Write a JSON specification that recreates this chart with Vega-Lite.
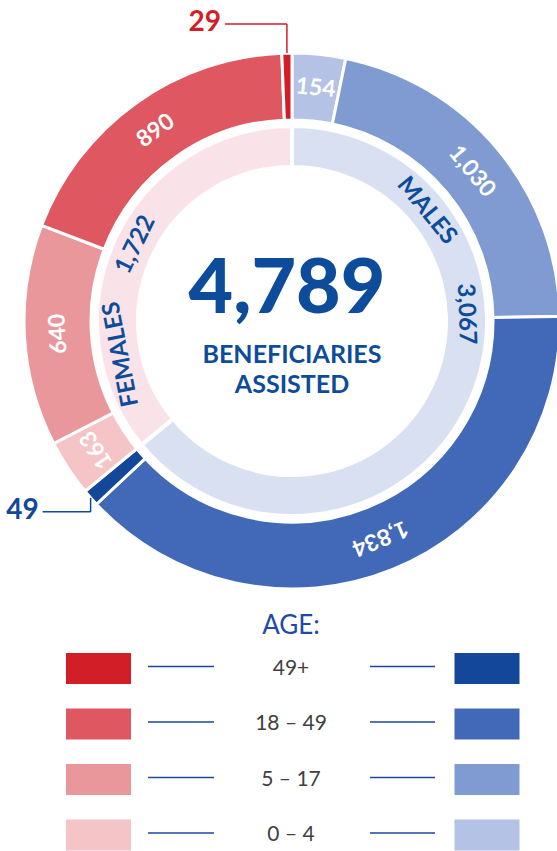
{
  "$schema": "https://vega.github.io/schema/vega-lite/v6.json",
  "width": 557,
  "height": 851,
  "autosize": {"type": "none"},
  "padding": 0,
  "background": "white",
  "config": {"view": {"stroke": null}, "font": "Lato", "text": {"font": "Lato"}},
  "params": [
    {"name": "cx", "value": 292},
    {"name": "cy", "value": 321},
    {"name": "rOut", "value": 268}
  ],
  "datasets": {
    "beneficiaries": [
      {"gender": "Males", "age": "0 – 4", "value": 154},
      {"gender": "Males", "age": "5 – 17", "value": 1030},
      {"gender": "Males", "age": "18 – 49", "value": 1834},
      {"gender": "Males", "age": "49+", "value": 49},
      {"gender": "Females", "age": "0 – 4", "value": 163},
      {"gender": "Females", "age": "5 – 17", "value": 640},
      {"gender": "Females", "age": "18 – 49", "value": 890},
      {"gender": "Females", "age": "49+", "value": 29}
    ]
  },
  "data": {"name": "beneficiaries"},
  "layer": [
    {
      "transform": [
        {"window": [{"op": "row_number", "as": "idx"}]},
        {"calculate": "datum.gender + ' ' + datum.age", "as": "key"}
      ],
      "mark": {"type": "arc", "x": {"expr": "cx"}, "y": {"expr": "cy"}, "radius": 268, "radius2": 201, "stroke": "white", "strokeWidth": 3},
      "encoding": {
        "theta": {"field": "value", "type": "quantitative", "stack": true},
        "order": {"field": "idx", "type": "quantitative"},
        "color": {"field": "key", "type": "nominal", "legend": null,
          "scale": {"domain": ["Males 0 – 4", "Males 5 – 17", "Males 18 – 49", "Males 49+", "Females 0 – 4", "Females 5 – 17", "Females 18 – 49", "Females 49+", "Males", "Females"],
                    "range": ["#b3c2e5", "#7f9bd1", "#4268b8", "#12479a", "#f4c4c7", "#ea979b", "#df5761", "#d21e26", "#d9e0f2", "#fae3e8"]}}
      }
    },
    {
      "transform": [
        {"window": [{"op": "row_number", "as": "idx"}]},
        {"aggregate": [{"op": "sum", "field": "value", "as": "value"}, {"op": "min", "field": "idx", "as": "idx"}], "groupby": ["gender"]}
      ],
      "mark": {"type": "arc", "x": {"expr": "cx"}, "y": {"expr": "cy"}, "radius": 195, "radius2": 154, "stroke": "white", "strokeWidth": 4},
      "encoding": {
        "theta": {"field": "value", "type": "quantitative", "stack": true},
        "order": {"field": "idx", "type": "quantitative"},
        "color": {"field": "gender", "type": "nominal", "legend": null,
          "scale": {"domain": ["Males 0 – 4", "Males 5 – 17", "Males 18 – 49", "Males 49+", "Females 0 – 4", "Females 5 – 17", "Females 18 – 49", "Females 49+", "Males", "Females"],
                    "range": ["#b3c2e5", "#7f9bd1", "#4268b8", "#12479a", "#f4c4c7", "#ea979b", "#df5761", "#d21e26", "#d9e0f2", "#fae3e8"]}}
      }
    },
    {
      "transform": [
        {"window": [{"op": "row_number", "as": "idx"}]},
        {"window": [{"op": "sum", "field": "value", "as": "cum"}], "sort": [{"field": "idx"}]},
        {"joinaggregate": [{"op": "sum", "field": "value", "as": "total"}]},
        {"calculate": "datum.cum - datum.value / 2", "as": "mid"},
        {"calculate": "datum.mid / datum.total * 360", "as": "midDeg"},
        {"filter": "datum.value >= 100"}
      ],
      "mark": {"type": "text", "x": {"expr": "cx"}, "y": {"expr": "cy"}, "radius": 234, "align": "center", "baseline": "middle", "fontSize": 23, "fontWeight": "bold", "fill": "white"},
      "encoding": {
        "theta": {"field": "mid", "type": "quantitative", "stack": null},
        "angle": {"field": "midDeg", "type": "quantitative", "scale": null},
        "text": {"field": "value", "type": "quantitative", "format": ","}
      }
    },
    {
      "transform": [
        {"window": [{"op": "row_number", "as": "idx"}]},
        {"aggregate": [{"op": "sum", "field": "value", "as": "value"}, {"op": "min", "field": "idx", "as": "idx"}], "groupby": ["gender"]},
        {"window": [{"op": "sum", "field": "value", "as": "cum"}], "sort": [{"field": "idx"}]},
        {"joinaggregate": [{"op": "sum", "field": "value", "as": "total"}]},
        {"calculate": "datum.cum - datum.value + 0.22 * datum.value", "as": "nameVal"},
        {"calculate": "datum.nameVal / datum.total * 360", "as": "nameDeg"},
        {"calculate": "upper(datum.gender)", "as": "label"}
      ],
      "mark": {"type": "text", "x": {"expr": "cx"}, "y": {"expr": "cy"}, "radius": 174, "align": "center", "baseline": "middle", "fontSize": 24, "fontWeight": "bold", "fill": "#0c4c9b", "letterSpacing": 1},
      "encoding": {
        "theta": {"field": "nameVal", "type": "quantitative", "stack": null},
        "angle": {"field": "nameDeg", "type": "quantitative", "scale": null},
        "text": {"field": "label", "type": "nominal"}
      }
    },
    {
      "transform": [
        {"window": [{"op": "row_number", "as": "idx"}]},
        {"aggregate": [{"op": "sum", "field": "value", "as": "value"}, {"op": "min", "field": "idx", "as": "idx"}], "groupby": ["gender"]},
        {"window": [{"op": "sum", "field": "value", "as": "cum"}], "sort": [{"field": "idx"}]},
        {"joinaggregate": [{"op": "sum", "field": "value", "as": "total"}]},
        {"calculate": "datum.cum - datum.value + 0.22 * datum.value + datum.total * 37 / 360", "as": "valVal"},
        {"calculate": "datum.valVal / datum.total * 360", "as": "valDeg"}
      ],
      "mark": {"type": "text", "x": {"expr": "cx"}, "y": {"expr": "cy"}, "radius": 174, "align": "center", "baseline": "middle", "fontSize": 24, "fontWeight": "bold", "fill": "#0c4c9b"},
      "encoding": {
        "theta": {"field": "valVal", "type": "quantitative", "stack": null},
        "angle": {"field": "valDeg", "type": "quantitative", "scale": null},
        "text": {"field": "value", "type": "quantitative", "format": ","}
      }
    },
    {
      "transform": [{"aggregate": [{"op": "sum", "field": "value", "as": "total"}]}],
      "mark": {"type": "text", "x": {"expr": "cx - 5"}, "y": {"expr": "cy - 8"}, "align": "center", "baseline": "alphabetic", "fontSize": 77, "fontWeight": 900, "fill": "#0c4c9b"},
      "encoding": {"text": {"field": "total", "type": "quantitative", "format": ","}}
    },
    {
      "transform": [{"aggregate": [{"op": "count", "as": "n"}]}],
      "mark": {"type": "text", "text": "BENEFICIARIES", "x": {"expr": "cx"}, "y": {"expr": "cy + 42"}, "align": "center", "baseline": "alphabetic", "fontSize": 25, "letterSpacing": 2.8, "fontWeight": "bold", "fill": "#0c4c9b"},
      "encoding": {}
    },
    {
      "transform": [{"aggregate": [{"op": "count", "as": "n"}]}],
      "mark": {"type": "text", "text": "ASSISTED", "x": {"expr": "cx"}, "y": {"expr": "cy + 72"}, "align": "center", "baseline": "alphabetic", "fontSize": 25, "letterSpacing": 2.8, "fontWeight": "bold", "fill": "#0c4c9b"},
      "encoding": {}
    },
    {
      "transform": [
        {"window": [{"op": "row_number", "as": "idx"}]},
        {"window": [{"op": "sum", "field": "value", "as": "cum"}], "sort": [{"field": "idx"}]},
        {"joinaggregate": [{"op": "sum", "field": "value", "as": "total"}]},
        {"filter": "datum.value < 100"},
        {"calculate": "datum.gender + ' ' + datum.age", "as": "key"},
        {"calculate": "(datum.cum - datum.value / 2) / datum.total * 2 * PI", "as": "th"},
        {"calculate": "cx + rOut * sin(datum.th)", "as": "ax"},
        {"calculate": "cy - rOut * cos(datum.th)", "as": "ay"},
        {"calculate": "datum.ay + (datum.gender == 'Females' ? -29 : 14)", "as": "ly"},
        {"calculate": "datum.ax - (datum.gender == 'Females' ? 62 : 48)", "as": "lx"}
      ],
      "layer": [
        {
          "mark": {"type": "rule", "strokeWidth": 1.5},
          "encoding": {
            "x": {"field": "ax", "type": "quantitative", "scale": null},
            "y": {"field": "ay", "type": "quantitative", "scale": null},
            "y2": {"field": "ly"},
            "color": {"field": "key", "type": "nominal", "legend": null}
          }
        },
        {
          "mark": {"type": "rule", "strokeWidth": 1.5},
          "encoding": {
            "x": {"field": "ax", "type": "quantitative", "scale": null},
            "x2": {"field": "lx"},
            "y": {"field": "ly", "type": "quantitative", "scale": null},
            "color": {"field": "key", "type": "nominal", "legend": null}
          }
        },
        {
          "mark": {"type": "text", "align": "right", "baseline": "middle", "dx": -4, "dy": -1, "fontSize": 28, "fontWeight": "bold"},
          "encoding": {
            "x": {"field": "lx", "type": "quantitative", "scale": null},
            "y": {"field": "ly", "type": "quantitative", "scale": null},
            "text": {"field": "value", "type": "quantitative"},
            "color": {"field": "key", "type": "nominal", "legend": null}
          }
        }
      ]
    },
    {
      "transform": [{"aggregate": [{"op": "count", "as": "n"}]}],
      "mark": {"type": "text", "text": "AGE:", "x": 291, "y": 634, "align": "center", "baseline": "alphabetic", "fontSize": 26, "fill": "#1f4aa8"},
      "encoding": {}
    },
    {
      "transform": [{"calculate": "datum.gender + ' ' + datum.age", "as": "key"}],
      "mark": {"type": "rect", "width": 65, "height": 31},
      "encoding": {
        "x": {"field": "gender", "type": "nominal", "axis": null, "scale": {"type": "point", "domain": ["Females", "Males"], "range": [98.5, 487], "padding": 0}},
        "y": {"field": "age", "type": "nominal", "axis": null, "scale": {"type": "point", "domain": ["49+", "18 – 49", "5 – 17", "0 – 4"], "range": [668.5, 835], "padding": 0}},
        "color": {"field": "key", "type": "nominal", "legend": null}
      }
    },
    {
      "transform": [{"filter": "datum.gender == 'Females'"}],
      "mark": {"type": "text", "align": "center", "baseline": "middle", "fontSize": 21, "fill": "#404040"},
      "encoding": {
        "x": {"value": 291},
        "y": {"field": "age", "type": "nominal", "axis": null},
        "text": {"field": "age", "type": "nominal"}
      }
    },
    {
      "transform": [{"filter": "datum.gender == 'Females'"}],
      "mark": {"type": "rule", "strokeWidth": 1.5, "color": "#1f45a0", "yOffset": -2},
      "encoding": {
        "x": {"value": 148},
        "x2": {"value": 214},
        "y": {"field": "age", "type": "nominal", "axis": null}
      }
    },
    {
      "transform": [{"filter": "datum.gender == 'Females'"}],
      "mark": {"type": "rule", "strokeWidth": 1.5, "color": "#1f45a0", "yOffset": -2},
      "encoding": {
        "x": {"value": 370},
        "x2": {"value": 435},
        "y": {"field": "age", "type": "nominal", "axis": null}
      }
    }
  ]
}
